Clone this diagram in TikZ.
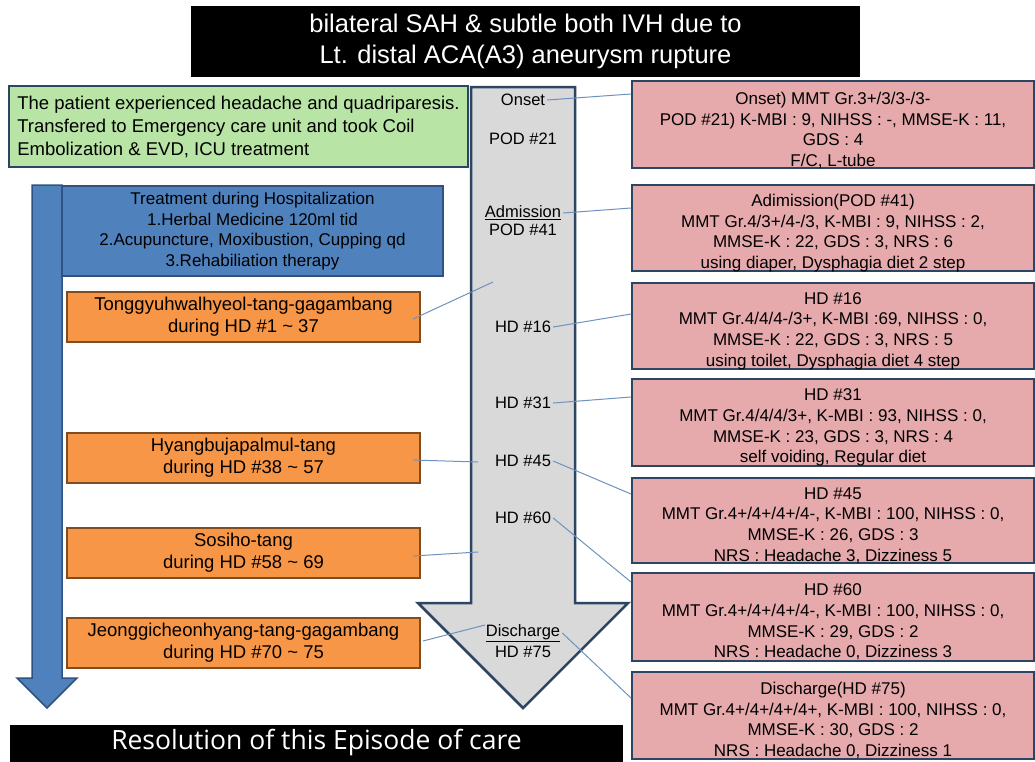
\documentclass[tikz,border=0pt]{standalone}
\usepackage{fontspec}
\setmainfont{Liberation Sans}
\newfontfamily\resfont{Open Sans}
\usepackage{tikz}
\tikzset{>=latex}
\definecolor{navyline}{HTML}{2C4562}
\definecolor{greenfill}{HTML}{B8E4A6}
\definecolor{bluefill}{HTML}{4F81BD}
\definecolor{blueline}{HTML}{2F5283}
\definecolor{orangefill}{HTML}{F79646}
\definecolor{orangeline}{HTML}{7E4E22}
\definecolor{grayfill}{HTML}{D9D9D9}
\definecolor{pinkfill}{HTML}{E6A9AC}
\definecolor{connblue}{HTML}{6E92BC}
\tikzset{
	titlebox/.style={fill=black,text=white,minimum width=669,minimum height=71,inner sep=0pt,align=center,font=\fontsize{25.5}{31}\selectfont},
	resbox/.style={fill=black,text=white,minimum width=613,minimum height=37,inner sep=0pt,font=\resfont\fontsize{26.5}{30}\selectfont},
	greenbox/.style={draw=navyline,line width=2.5pt,fill=greenfill,minimum width=459,minimum height=81,inner sep=1pt,align=left,font=\fontsize{18.5}{23}\selectfont},
	bluebox/.style={draw=blueline,line width=2pt,fill=bluefill,minimum width=381,minimum height=90,inner sep=1pt,align=center,font=\fontsize{17}{20.7}\selectfont},
	orangebox/.style={draw=orangeline,line width=2pt,fill=orangefill,minimum width=353,minimum height=50,inner sep=1pt,align=center,font=\fontsize{18.5}{22}\selectfont},
	pinkbox/.style={draw=navyline,line width=2pt,fill=pinkfill,minimum width=402,inner sep=0pt},
	pinktxt/.style={inner sep=0pt,align=center,font=\fontsize{17}{20.7}\selectfont},
	graylbl/.style={inner sep=2pt,font=\fontsize{16.5}{19}\selectfont},
	conn/.style={draw=connblue,line width=1pt},
}

\begin{document}
\begin{tikzpicture}[x=1pt,y=-1pt]
	\useasboundingbox (0,0) rectangle (1035,761);

	\draw [line width=1.5pt,draw=blueline,fill=bluefill] (32,185) -- (62,185) -- (62,678) -- (77,678) -- (47,708) -- (17,678) -- (32,678) -- cycle;
	\draw [line width=2.5pt,draw=navyline,fill=grayfill] (471,87) -- (575,87) -- (575,603) -- (628,603) -- (523,708) -- (418,603) -- (471,603) -- cycle;

	\node [titlebox] (title) at (525.5,41.5) {bilateral SAH \& subtle both IVH due to\\Lt. distal ACA(A3) aneurysm rupture};
	\node [greenbox] (story) at (238.5,126.5) {The patient experienced headache and quadriparesis.\\Transfered to Emergency care unit and took Coil\\Embolization \& EVD, ICU treatment};
	\node [bluebox] (treat) at (252.5,231) {Treatment during Hospitalization\\1.Herbal Medicine 120ml tid\\2.Acupuncture, Moxibustion, Cupping qd\\3.Rehabiliation therapy};

	\node [orangebox] (med1) at (243.5,316.5) {Tonggyuhwalhyeol-tang-gagambang\\during HD \#1 \textasciitilde{} 37};
	\node [orangebox] (med2) at (243.5,458) {Hyangbujapalmul-tang\\during HD \#38 \textasciitilde{} 57};
	\node [orangebox] (med3) at (243.5,553) {Sosiho-tang\\during HD \#58 \textasciitilde{} 69};
	\node [orangebox] (med4) at (243.5,643) {Jeonggicheonhyang-tang-gagambang\\during HD \#70 \textasciitilde{} 75};

	\node [graylbl] (onset) at (523,100) {Onset};
	\node [graylbl] (pod21) at (523,139) {POD \#21};
	\node [graylbl] (adm) at (523,213) {\underline{Admission}};
	\node [graylbl] (pod41) at (523,230) {POD \#41};
	\node [graylbl] (hd16) at (523,327) {HD \#16};
	\node [graylbl] (hd31) at (523,403) {HD \#31};
	\node [graylbl] (hd45) at (523,461) {HD \#45};
	\node [graylbl] (hd60) at (523,518) {HD \#60};
	\node [graylbl] (dis) at (523,633) {\underline{Discharge}};
	\node [graylbl] (hd75) at (523,652) {HD \#75};

	\node [pinkbox,minimum height=87] (pk1) at (833,124.5) {};
	\node [pinkbox,minimum height=86] (pk2) at (833,228) {};
	\node [pinkbox,minimum height=86] (pk3) at (833,326) {};
	\node [pinkbox,minimum height=87] (pk4) at (833,422.5) {};
	\node [pinkbox,minimum height=85] (pk5) at (833,520.5) {};
	\node [pinkbox,minimum height=88] (pk6) at (833,617) {};
	\node [pinkbox,minimum height=87] (pk7) at (833,715.5) {};

	\node [pinktxt] (pk1t) at ([yshift=-6pt]pk1.center) {Onset) MMT Gr.3+/3/3-/3-\\POD \#21) K-MBI : 9, NIHSS : -, MMSE-K : 11,\\GDS : 4\\F/C, L-tube};
	\node [pinktxt] (pk2t) at ([yshift=-5pt]pk2.center) {Adimission(POD \#41)\\MMT Gr.4/3+/4-/3, K-MBI : 9, NIHSS : 2,\\MMSE-K : 22, GDS : 3, NRS : 6\\using diaper, Dysphagia diet 2 step};
	\node [pinktxt] (pk3t) at ([yshift=-5pt]pk3.center) {HD \#16\\MMT Gr.4/4/4-/3+, K-MBI :69, NIHSS : 0,\\MMSE-K : 22, GDS : 3, NRS : 5\\using toilet, Dysphagia diet 4 step};
	\node [pinktxt] (pk4t) at ([yshift=-5pt]pk4.center) {HD \#31\\MMT Gr.4/4/4/3+, K-MBI : 93, NIHSS : 0,\\MMSE-K : 23, GDS : 3, NRS : 4\\self voiding, Regular diet};
	\node [pinktxt] (pk5t) at ([yshift=-5pt]pk5.center) {HD \#45\\MMT Gr.4+/4+/4+/4-, K-MBI : 100, NIHSS : 0,\\MMSE-K : 26, GDS : 3\\NRS : Headache 3, Dizziness 5};
	\node [pinktxt] (pk6t) at ([yshift=-5pt]pk6.center) {HD \#60\\MMT Gr.4+/4+/4+/4-, K-MBI : 100, NIHSS : 0,\\MMSE-K : 29, GDS : 2\\NRS : Headache 0, Dizziness 3};
	\node [pinktxt] (pk7t) at ([yshift=-5pt]pk7.center) {Discharge(HD \#75)\\MMT Gr.4+/4+/4+/4+, K-MBI : 100, NIHSS : 0,\\MMSE-K : 30, GDS : 2\\NRS : Headache 0, Dizziness 1};

	\node [resbox] (result) at (316.5,743) {Resolution of this Episode of care};

	\coordinate (g1) at (493,282);
	\coordinate (g2) at (478,462);
	\coordinate (g3) at (478,552);
	\coordinate (g4) at (485,625);

	\draw [conn] (onset.east) -- ([yshift=30.5pt]pk1.west);
	\draw [conn] (adm.east) -- ([yshift=20pt]pk2.west);
	\draw [conn] (hd16.east) -- ([yshift=12pt]pk3.west);
	\draw [conn] (hd31.east) -- ([yshift=25.5pt]pk4.west);
	\draw [conn] (hd45.east) -- ([yshift=26.5pt]pk5.west);
	\draw [conn] (hd60.east) -- ([yshift=35pt]pk6.west);
	\draw [conn] (dis.east) -- ([yshift=17.5pt]pk7.west);

	\draw [conn] ([xshift=-8pt,yshift=-2.5pt]med1.east) -- (g1);
	\draw [conn] ([xshift=-8pt,yshift=-2pt]med2.east) -- (g2);
	\draw [conn] ([xshift=-8pt,yshift=-3pt]med3.east) -- (g3);
	\draw [conn] ([xshift=2pt,yshift=2pt]med4.east) -- (g4);
\end{tikzpicture}
\end{document}
